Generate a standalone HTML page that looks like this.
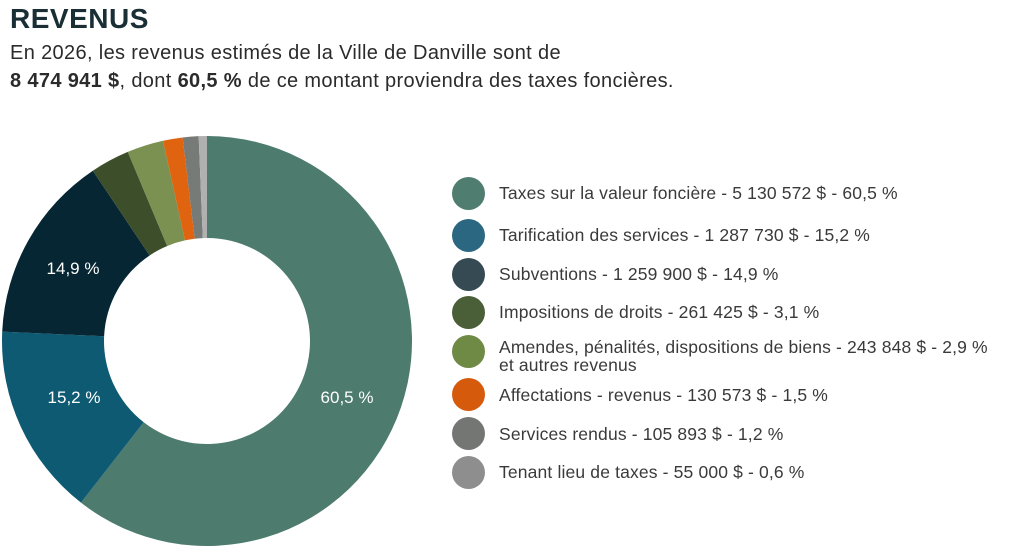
<!DOCTYPE html>
<html><head><meta charset="utf-8"><style>
body{margin:0;width:1024px;height:553px;background:#fff;font-family:"Liberation Sans",sans-serif;color:#2b2b2b;position:relative;overflow:hidden}
h1{position:absolute;left:10px;top:3px;margin:0;font-size:28px;font-weight:bold;color:#1a2e35;letter-spacing:0.5px}
.sub{position:absolute;left:10px;top:39px;font-size:20px;letter-spacing:0.35px;line-height:28px;color:#2b2b2b}
.leg{position:absolute;left:499px;font-size:17.5px;letter-spacing:0.15px;color:#3a3a3a;line-height:18px;white-space:nowrap}
.dot{position:absolute;left:452px;width:33px;height:33px;border-radius:50%}
</style></head><body>
<h1>REVENUS</h1>
<div class="sub">En 2026, les revenus estimés de la Ville de Danville sont de<br><b>8 474 941 $</b>, dont <b>60,5 %</b> de ce montant proviendra des taxes foncières.</div>
<svg id="pie" width="1024" height="553" style="position:absolute;left:0;top:0"></svg>
<div class="dot" style="top:177px;background:#4f7d70"></div><div class="leg" style="top:184px">Taxes sur la valeur foncière - 5 130 572 $ - 60,5 %</div>
<div class="dot" style="top:219px;background:#2b6780"></div><div class="leg" style="top:226px">Tarification des services - 1 287 730 $ - 15,2 %</div>
<div class="dot" style="top:258px;background:#354a53"></div><div class="leg" style="top:265px">Subventions - 1 259 900 $ - 14,9 %</div>
<div class="dot" style="top:296px;background:#4a5e38"></div><div class="leg" style="top:303px">Impositions de droits - 261 425 $ - 3,1 %</div>
<div class="dot" style="top:335px;background:#6e8a45"></div><div class="leg" style="top:338px">Amendes, pénalités, dispositions de biens - 243 848 $ - 2,9 %<br>et autres revenus</div>
<div class="dot" style="top:378px;background:#d65a0c"></div><div class="leg" style="top:386px">Affectations - revenus - 130 573 $ - 1,5 %</div>
<div class="dot" style="top:417px;background:#747674"></div><div class="leg" style="top:425px">Services rendus - 105 893 $ - 1,2 %</div>
<div class="dot" style="top:456px;background:#8e8e8e"></div><div class="leg" style="top:463px">Tenant lieu de taxes - 55 000 $ - 0,6 %</div>
<script>
var d=[[5130572,'#4d7b6e'],[1287730,'#0e5a72'],[1259900,'#052632'],[261425,'#3d4f2a'],[243848,'#7a9152'],[130573,'#e06410'],[105893,'#767b78'],[55000,'#b0b0b0']];
var T=8474941,cx=207,cy=341,R=205,r=103,a=0,s='';
function p(ang,rad){return [cx+rad*Math.sin(ang),cy-rad*Math.cos(ang)];}
d.forEach(function(x){var b=a+x[0]/T*2*Math.PI,l=(b-a)>Math.PI?1:0;
var A=p(a,R),B=p(b,R),C=p(b,r),D=p(a,r);
s+='<path fill="'+x[1]+'" d="M'+A+' A'+R+' '+R+' 0 '+l+' 1 '+B+' L'+C+' A'+r+' '+r+' 0 '+l+' 0 '+D+'Z"/>';a=b;});
s+='<g font-family="Liberation Sans" font-size="17" fill="#fff" text-anchor="middle"><text x="347" y="403">60,5 %</text><text x="74" y="403">15,2 %</text><text x="73" y="274">14,9 %</text></g>';
document.getElementById('pie').innerHTML=s;
</script>
</body></html>
